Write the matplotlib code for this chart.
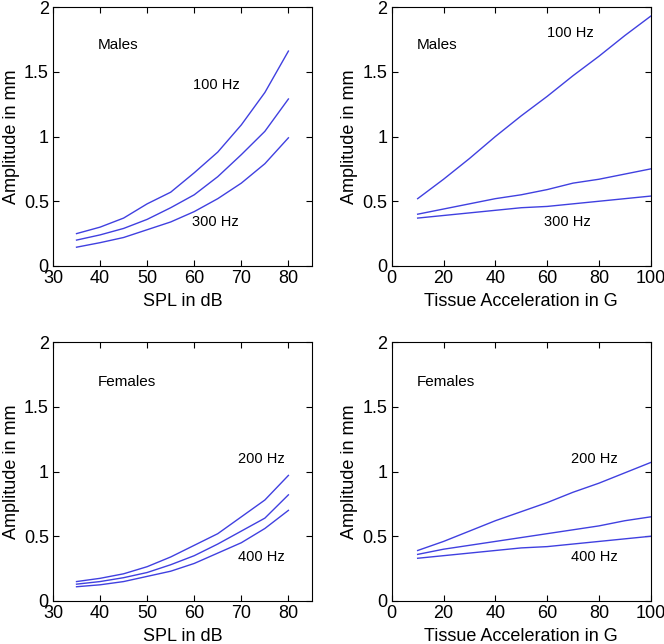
import numpy as np
import matplotlib
matplotlib.use("Agg")
import matplotlib.pyplot as plt

plt.rcParams['font.family'] = ['Liberation Sans', 'DejaVu Sans']

# SPL panels (left column)
spl = [35, 40, 45, 50, 55, 60, 65, 70, 75, 80]
male_spl_100 = [0.25, 0.30, 0.37, 0.48, 0.57, 0.72, 0.88, 1.09, 1.34, 1.66]
male_spl_200 = [0.20, 0.24, 0.29, 0.36, 0.45, 0.55, 0.69, 0.86, 1.04, 1.29]
male_spl_300 = [0.145, 0.18, 0.22, 0.28, 0.34, 0.42, 0.52, 0.64, 0.79, 0.99]
female_spl_200 = [0.15, 0.175, 0.21, 0.265, 0.34, 0.43, 0.52, 0.65, 0.78, 0.97]
female_spl_300 = [0.13, 0.15, 0.18, 0.22, 0.28, 0.35, 0.44, 0.54, 0.64, 0.82]
female_spl_400 = [0.11, 0.125, 0.15, 0.19, 0.23, 0.29, 0.37, 0.45, 0.56, 0.70]

# tissue acceleration panels (right column)
accel = [10, 20, 30, 40, 50, 60, 70, 80, 90, 100]
male_acc_100 = [0.52, 0.67, 0.83, 1.00, 1.16, 1.31, 1.47, 1.62, 1.78, 1.93]
male_acc_200 = [0.40, 0.44, 0.48, 0.52, 0.55, 0.59, 0.64, 0.67, 0.71, 0.75]
male_acc_300 = [0.37, 0.39, 0.41, 0.43, 0.45, 0.46, 0.48, 0.50, 0.52, 0.54]
female_acc_200 = [0.39, 0.46, 0.54, 0.62, 0.69, 0.76, 0.84, 0.91, 0.99, 1.07]
female_acc_300 = [0.36, 0.40, 0.43, 0.46, 0.49, 0.52, 0.55, 0.58, 0.62, 0.65]
female_acc_400 = [0.33, 0.35, 0.37, 0.39, 0.41, 0.42, 0.44, 0.46, 0.48, 0.50]

line_color = '#4040e0'

fig = plt.figure(figsize=(6.64, 6.44), dpi=100)

W, H = 0.390, 0.402
panels = [
    # rect, x, curves, xlim, xticks, xlabel, text labels
    ([0.0798, 0.587, W, H], spl, [male_spl_100, male_spl_200, male_spl_300],
     (30, 85), [30, 40, 50, 60, 70, 80], 'SPL in dB',
     [(39.5, 1.71, 'Males'), (59.7, 1.40, '100 Hz'), (59.5, 0.34, '300 Hz')]),
    ([0.590, 0.587, W, H], accel, [male_acc_100, male_acc_200, male_acc_300],
     (0, 100), [0, 20, 40, 60, 80, 100], 'Tissue Acceleration in G',
     [(9.7, 1.71, 'Males'), (59.8, 1.80, '100 Hz'), (58.8, 0.34, '300 Hz')]),
    ([0.0798, 0.0668, W, H], spl, [female_spl_200, female_spl_300, female_spl_400],
     (30, 85), [30, 40, 50, 60, 70, 80], 'SPL in dB',
     [(39.5, 1.69, 'Females'), (69.3, 1.10, '200 Hz'), (69.3, 0.34, '400 Hz')]),
    ([0.590, 0.0668, W, H], accel, [female_acc_200, female_acc_300, female_acc_400],
     (0, 100), [0, 20, 40, 60, 80, 100], 'Tissue Acceleration in G',
     [(9.7, 1.69, 'Females'), (69.1, 1.10, '200 Hz'), (69.1, 0.34, '400 Hz')]),
]

for rect, xs, curves, xlim, xticks, xlabel, labels in panels:
    ax = fig.add_axes(rect)
    for ys in curves:
        ax.plot(xs, ys, color=line_color, lw=1.0)
    ax.set_xlim(*xlim)
    ax.set_ylim(0, 2)
    ax.set_xticks(xticks)
    ax.set_yticks([0, 0.5, 1, 1.5, 2])
    ax.set_yticklabels(['0', '0.5', '1', '1.5', '2'])
    ax.tick_params(direction='in', top=True, right=True, labelsize=13,
                   length=4, width=0.8, pad=3)
    ax.set_xlabel(xlabel, fontsize=13, labelpad=4)
    ax.set_ylabel('Amplitude in mm', fontsize=13, labelpad=3)
    for sp in ax.spines.values():
        sp.set_linewidth(0.8)
    for tx, ty, txt in labels:
        fs = 11 if 'Hz' not in txt else 10.5
        ax.text(tx, ty, txt, fontsize=fs, ha='left', va='center')

fig.savefig('out.png', dpi=100)
